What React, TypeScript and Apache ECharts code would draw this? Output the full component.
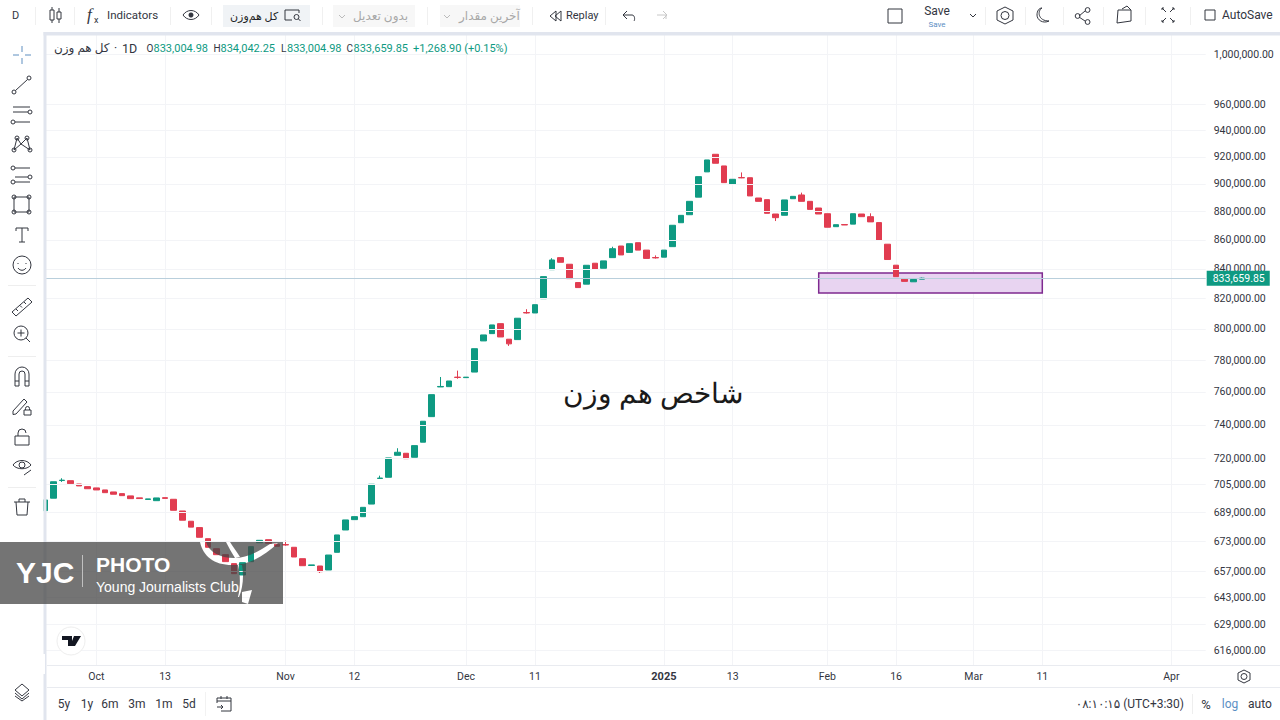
import { useEffect, useRef } from 'react'
import * as echarts from 'echarts'

// daily sessions, the tail past Feb 19 is the empty future part of the time scale
const sessionDates = [
  '2024-09-23', '2024-09-24', '2024-09-25', '2024-09-28', '2024-09-29', '2024-09-30', '2024-10-01', '2024-10-02',
  '2024-10-05', '2024-10-06', '2024-10-07', '2024-10-08', '2024-10-09', '2024-10-12', '2024-10-13', '2024-10-14',
  '2024-10-15', '2024-10-16', '2024-10-19', '2024-10-20', '2024-10-21', '2024-10-22', '2024-10-23', '2024-10-26',
  '2024-10-27', '2024-10-28', '2024-10-29', '2024-10-30', '2024-11-02', '2024-11-03', '2024-11-04', '2024-11-05',
  '2024-11-06', '2024-11-09', '2024-11-10', '2024-11-11', '2024-11-12', '2024-11-13', '2024-11-16', '2024-11-17',
  '2024-11-18', '2024-11-19', '2024-11-20', '2024-11-23', '2024-11-24', '2024-11-25', '2024-11-26', '2024-11-27',
  '2024-11-30', '2024-12-01', '2024-12-02', '2024-12-03', '2024-12-04', '2024-12-07', '2024-12-08', '2024-12-09',
  '2024-12-10', '2024-12-11', '2024-12-14', '2024-12-15', '2024-12-16', '2024-12-17', '2024-12-18', '2024-12-21',
  '2024-12-22', '2024-12-23', '2024-12-24', '2024-12-25', '2024-12-28', '2024-12-29', '2024-12-30', '2024-12-31',
  '2025-01-01', '2025-01-04', '2025-01-05', '2025-01-06', '2025-01-07', '2025-01-08', '2025-01-11', '2025-01-12',
  '2025-01-13', '2025-01-14', '2025-01-15', '2025-01-18', '2025-01-19', '2025-01-20', '2025-01-21', '2025-01-22',
  '2025-01-25', '2025-01-26', '2025-01-29', '2025-02-01', '2025-02-02', '2025-02-03', '2025-02-04', '2025-02-05',
  '2025-02-08', '2025-02-09', '2025-02-15', '2025-02-16', '2025-02-17', '2025-02-18', '2025-02-19', '2025-02-22',
  '2025-02-23', '2025-02-24', '2025-02-25', '2025-02-26', '2025-03-01', '2025-03-02', '2025-03-03', '2025-03-04',
  '2025-03-05', '2025-03-08', '2025-03-09', '2025-03-10', '2025-03-11', '2025-03-12', '2025-03-15', '2025-03-16',
  '2025-03-17', '2025-03-18', '2025-03-19', '2025-03-22', '2025-03-23', '2025-03-24', '2025-03-25', '2025-03-26',
  '2025-03-29', '2025-03-30', '2025-03-31', '2025-04-01', '2025-04-02', '2025-04-05', '2025-04-06', '2025-04-07',
]

const opens = [
  690100, 697100, 707200, 707100, 705200, 703700, 702950, 701800, 700650, 699700,
  698400, 697300, 696400, 695700, 697400, 696500, 689900, 684170, 680650, 674530,
  669070, 665830, 661000, 654920, 662040, 672350, 673980, 671470, 671300, 669840,
  663650, 660000, 659720, 657590, 667110, 679320, 685060, 686700, 693800, 708400,
  709070, 721850, 723050, 720700, 729570, 744900, 763100, 763280, 769200, 768900,
  772400, 792200, 796900, 803400, 793300, 793050, 810700, 810400, 819870, 839450,
  847700, 843150, 830700, 829600, 843850, 840400, 847700, 855750, 851300, 858050,
  852900, 847800, 848000, 855300, 872100, 877800, 890400, 908900, 922000, 913300,
  900000, 904700, 904600, 889800, 888600, 878300, 877400, 889300, 892000, 887400,
  882600, 878500, 869300, 870800, 871100, 878300, 876400, 872200, 857000, 842500,
  833000, 831200, 833004.98,
]

const closes = [
  696100, 706500, 707400, 705400, 704100, 702500, 701800, 700250, 699350, 698550,
  696850, 696900, 696700, 697250, 697000, 690290, 684730, 680900, 675300, 669840,
  665830, 662070, 655610, 661500, 670160, 673650, 672020, 670380, 671100, 664560,
  659880, 660300, 656680, 665630, 676580, 684890, 686730, 691950, 705050, 708600,
  720300, 723640, 719880, 727550, 742110, 758330, 763400, 766800, 769000, 769200,
  787200, 796050, 802550, 794750, 790300, 806950, 810400, 815880, 834700, 846100,
  844500, 833350, 827300, 842450, 839730, 845450, 853880, 849550, 857350, 852900,
  847150, 847500, 852900, 870300, 877350, 887400, 905400, 917760, 915300, 901000,
  903450, 904500, 891300, 887400, 878800, 875700, 888400, 891000, 887400, 881600,
  878300, 868900, 870700, 870500, 878500, 876400, 872700, 859950, 846400, 834700,
  831500, 832800, 833659.85,
]

// only the sessions with a visible wick
const wickHighs: Record<number, number> = {
  2: 708500, 28: 673450, 39: 710000, 41: 726000, 46: 769300, 48: 773300, 56: 812900, 59: 847300,
  66: 855250, 71: 849250, 81: 908500, 88: 893700, 96: 878800, 102: 834042.25,
}
const wickLows: Record<number, number> = {
  2: 706400, 28: 670700, 32: 655990, 39: 708200, 48: 768200, 54: 789000, 56: 810000, 71: 847100, 81: 904300, 85: 873300,
}

const tickDates = [
  '2024-10-01', '2024-10-13', '2024-11-02', '2024-11-12', '2024-12-01', '2024-12-11', '2025-01-01',
  '2025-01-13', '2025-02-01', '2025-02-16', '2025-03-01', '2025-03-11', '2025-04-01',
]
const tickLabels = ['Oct', '13', 'Nov', '12', 'Dec', '11', '{b|2025}', '13', 'Feb', '16', 'Mar', '11', 'Apr']

const priceTicks = [
  1000000, 960000, 940000, 920000, 900000, 880000, 860000, 840000, 820000, 800000, 780000,
  760000, 740000, 720000, 705000, 689000, 673000, 657000, 643000, 629000, 616000,
]
const lastPrice = 833659.85
const zoneDates = ['2025-01-29', '2025-03-11']
const zonePrices = [837200, 823670]

const UP = '#0e9a82'
const DOWN = '#e13c50'
const FAINT = '#f3f4f7'
const BAND = '#e1e5ee'
const INK = '#33363f'
const FONT = 'Roboto, "DejaVu Sans", sans-serif'

// toolbar icons, drawn in page coordinates
const strokeIcons: Record<string, string> = {
  line: 'M15.5 90.5L27.5 79.5M16 92a2 2 0 1 1-4 0a2 2 0 1 1 4 0M31 78a2 2 0 1 1-4 0a2 2 0 1 1 4 0',
  channel: 'M13 107H30M13 112H28M15 122H30M32 112a2 2 0 1 1-4 0a2 2 0 1 1 4 0M15 122a2 2 0 1 1-4 0a2 2 0 1 1 4 0',
  pattern:
    'M14 150L17 138M17 138L21 144L27 138M27 138L30 150L21 144L14 150M16 150a2 2 0 1 1-4 0a2 2 0 1 1 4 0M19 138a2 2 0 1 1-4 0a2 2 0 1 1 4 0M29 138a2 2 0 1 1-4 0a2 2 0 1 1 4 0M32 150a2 2 0 1 1-4 0a2 2 0 1 1 4 0',
  fib: 'M15 168H30M15 177H28M15 182H30M15 168a2 2 0 1 1-4 0a2 2 0 1 1 4 0M32 177a2 2 0 1 1-4 0a2 2 0 1 1 4 0M15 182a2 2 0 1 1-4 0a2 2 0 1 1 4 0',
  rect: 'M14 197H29V212H14ZM16 197a2 2 0 1 1-4 0a2 2 0 1 1 4 0M31 197a2 2 0 1 1-4 0a2 2 0 1 1 4 0M16 212a2 2 0 1 1-4 0a2 2 0 1 1 4 0M31 212a2 2 0 1 1-4 0a2 2 0 1 1 4 0',
  text: 'M16 231V228H28V231M22 228V242M19 242H25',
  smile: 'M31 265a9 9 0 1 1-18 0a9 9 0 1 1 18 0M18 263V264M26 263V264M18 268C20 271 24 271 26 268',
  ruler: 'M12 312L28 298L32 302L16 316ZM16 309L18 311M20 305.5L22 307.5M24 302L26 304',
  zoom: 'M28 333a7 7 0 1 1-14 0a7 7 0 1 1 14 0M26 338L30 342M21 329.5V336.5M17.5 333H24.5',
  magnet: 'M15 386V374A7 7 0 0 1 29 374V386H25V374A3 3 0 0 0 19 374V386ZM15 381H19M25 381H29',
  pencilLock: 'M13 411L24 399L27 402L16 414L13 414.5ZM24 410H31V415H24ZM25.5 410V408.5A2 2 0 0 1 29.5 408.5V410',
  lock: 'M15 436H29V445H15ZM18 436V433A4 4 0 0 1 26 433',
  eye: 'M13 465C17 459 27 459 31 465C27 470 17 470 13 465ZM25 465a3 3 0 1 1-6 0a3 3 0 1 1 6 0M24 475L31 470',
  trash: 'M14 502H30M19 502V499H25V502M16 502L17 515H27L28 502',
  layers: 'M22 684L29 690L22 696L15 690ZM15 693L22 699L29 693M15 696L22 701L29 696',
  candle: 'M50 10H54V20H50ZM52 7V10M52 20V23M57 12H61V19H57ZM59 8V12M59 19V23',
  eyeTop: 'M183 15C187 9 195 9 199 15C195 21 187 21 183 15Z',
  chipSearch: 'M299 13V10H285V20H292M299 17a2.500 2.500 0 1 1-5 0a2.500 2.500 0 1 1 5 0M298.500 19L300.500 21',
  chev1: 'M339 15L342 18L345 15',
  chev2: 'M444 15L447 18L450 15',
  replay: 'M556 11L550 16L556 21ZM561 11L555 16L561 21Z',
  undo: 'M627 11L623 15L627 19M623 15H632C635 15 635 20 634 21',
  square: 'M888 9H902V23H888Z',
  chevSave: 'M970 14L973 17L976 14',
  hex: 'M1005 7L1013 11V20L1005 24L997 20V11ZM1009 15.5a4 4 0 1 1-8 0a4 4 0 1 1 8 0',
  moon: 'M1042 8C1037 11 1038 21 1049 21C1043 24 1037 20 1037 15C1037 11 1039 8 1042 8Z',
  share: 'M1079 16L1085 11M1079 17L1085 21M1080 16a2.4 2.4 0 1 1-4.800 0a2.400 2.400 0 1 1 4.800 0M1090 10a2.400 2.400 0 1 1-4.800 0a2.400 2.400 0 1 1 4.800 0M1090 22a2.400 2.400 0 1 1-4.800 0a2.400 2.400 0 1 1 4.800 0',
  snapshot: 'M1118 10H1131V21L1117 23ZM1122 9L1127 6L1131 10',
  expand: 'M1162 10V8H1164M1172 8H1174V10M1162 20V22H1164M1172 22H1174V20M1162 8L1166 12M1174 8L1170 12M1162 22L1166 18M1174 22L1170 18',
  checkbox: 'M1205 10H1215V20H1205Z',
  calendar: 'M217 698H231V711H221M217 701H231M221 696V699M227 696V699M217 698V703M217 707H223M221 705L223 707L221 709',
  gear: 'M1244 670L1250 673V680L1244 683L1238 680V673ZM1247 676.500a3 3 0 1 1-6 0a3 3 0 1 1 6 0',
}

const registerIcons = () => {
  Object.keys(strokeIcons).forEach((name) => {
    echarts.graphic.registerShape('ic_' + name, echarts.graphic.extendPath(strokeIcons[name], {}) as any)
  })
  // the grey watermark, the swoosh is a hole so the candles show through it
  echarts.graphic.registerShape(
    'yjc_plate',
    echarts.graphic.extendPath(
      'M0 542H283V604H0Z' +
        'M200 542C203 556 214 565 232 565C250 565 265 555 278 543L270 544C258 552 246 558 234 558C220 558 209 552 206 542Z' +
        'M226 542C229 548 232 553 235 558L240 557C237 552 233 547 230 542Z' +
        'M238 565C240 572 241 585 238 597L239 597C243 588 244 575 242 565Z' +
        'M242 592L242 602L248 604L252 590Z',
      {},
    ) as any,
  )
  echarts.graphic.registerShape(
    'tv_logo',
    echarts.graphic.extendPath('M62 636H72V646H68V640H62ZM74 636H81L75 646H70Z M76 640a1 1 0 1 1 0 .01', {}) as any,
  )
}
registerIcons()

const txt = (x: number, y: number, text: string, fill = INK, fontSize = 12, extra: any = {}) => ({
  type: 'text',
  z: 200,
  silent: true,
  style: { x, y, text, fill, fontSize, fontFamily: FONT, verticalAlign: 'middle', align: 'left', ...extra },
})
const box = (x: number, y: number, width: number, height: number, fill: string, z = 190) => ({
  type: 'rect',
  z,
  silent: true,
  shape: { x, y, width, height },
  style: { fill },
})

const buildChrome = () => {
  const els: any[] = [
    // chrome panels go over the clipped chart edges
    box(0, 0, 1280, 32, '#ffffff'),
    box(0, 32, 1280, 3.5, BAND),
    box(0, 32, 43.5, 688, '#ffffff'),
    box(43.5, 32, 3, 688, BAND),
    box(47, 665, 1233, 1, '#e9ebf0'),
    box(47, 687, 1233, 1, '#e9ebf0'),
    box(223, 5, 87, 22, '#f0f3f6'),
    box(333, 5, 82, 22, '#f7f7f7'),
    box(440, 5, 80, 22, '#f7f7f7'),
    box(40, 654, 5, 20, '#ffffff', 195),
  ]
  ;[285, 356, 487].forEach((y) => els.push(box(8, y, 28, 1, '#eeeeee')))
  ;[35, 74, 170, 211, 322, 427, 532, 605, 985, 1025, 1063, 1103, 1145, 1190].forEach((x) =>
    els.push(box(x, 7, 1, 18, '#f0f0f0')),
  )
  els.push(box(1192, 694, 1, 20, '#eeeeee'), box(205, 692, 1, 24, '#f2f2f2'))

  Object.keys(strokeIcons).forEach((name) => {
    els.push({
      type: 'ic_' + name,
      z: 200,
      silent: true,
      style: { fill: 'none', stroke: name === 'chev1' || name === 'chev2' ? '#bbbbbb' : INK, lineWidth: 1 },
    })
  })
  // crosshair tool is the active one
  ;[
    [22, 46, 22, 52],
    [22, 58, 22, 64],
    [13, 55, 19, 55],
    [25, 55, 31, 55],
  ].forEach(([x1, y1, x2, y2]) =>
    els.push({ type: 'line', z: 200, silent: true, shape: { x1, y1, x2, y2 }, style: { stroke: '#5f8fc0', lineWidth: 1 } }),
  )
  els.push({ type: 'circle', z: 200, silent: true, shape: { cx: 191, cy: 15, r: 2.5 }, style: { fill: INK } })
  els.push({ type: 'polyline', z: 200, silent: true, shape: { points: [[666, 19], [666, 15], [657, 15]] }, style: { stroke: '#c8c8c8', fill: 'none', lineWidth: 1 } })
  els.push({ type: 'polyline', z: 200, silent: true, shape: { points: [[663, 11], [667, 15], [663, 19]] }, style: { stroke: '#c8c8c8', fill: 'none', lineWidth: 1 } })

  // top bar
  els.push(
    txt(12, 15, 'D', INK, 11),
    txt(87, 14, 'f', INK, 17, { fontFamily: '"Liberation Serif", serif', fontStyle: 'italic' }),
    txt(94, 20, 'x', INK, 9),
    txt(107, 15, 'Indicators', INK, 11.5),
    txt(230, 16, 'کل هم‌وزن', '#1c1e24', 11),
    txt(353, 16, 'بدون تعدیل', '#a8a8a8', 12),
    txt(459, 16, 'آخرین مقدار', '#a8a8a8', 12),
    txt(566, 15, 'Replay', INK, 11),
    txt(937, 11, 'Save', INK, 12, { align: 'center' }),
    txt(937, 24, 'Save', '#5b8fc4', 8, { align: 'center' }),
    txt(1222, 15, 'AutoSave', INK, 12),
  )

  // legend row
  els.push(txt(54, 48, 'کل هم وزن', INK, 12), txt(114, 48, '·', INK, 12), txt(122, 48, '1D', INK, 12.5))
  ;[
    [146.5, 'O', 153.5, '833,004.98'],
    [213.5, 'H', 220.5, '834,042.25'],
    [281, 'L', 287, '833,004.98'],
    [346.5, 'C', 353.5, '833,659.85'],
  ].forEach(([lx, l, vx, v]) => {
    els.push(txt(lx as number, 48, l as string, INK, 10), txt(vx as number, 48, v as string, UP, 11))
  })
  els.push(txt(413, 48, '+1,268.90 (+0.15%)', UP, 11))

  // bottom bar
  ;[
    ['5y', 64],
    ['1y', 87],
    ['6m', 110],
    ['3m', 137],
    ['1m', 164],
    ['5d', 189],
  ].forEach(([t, x]) => els.push(txt(x as number, 704, t as string, INK, 12, { align: 'center' })))
  els.push(
    txt(1184, 704, '۰۸:۱۰:۱۵ (UTC+3:30)', INK, 12, { align: 'right' }),
    txt(1206, 704, '%', INK, 13, { align: 'center' }),
    txt(1230, 704, 'log', '#5b8fc4', 12, { align: 'center' }),
    txt(1260, 704, 'auto', INK, 12, { align: 'center' }),
  )

  // tv badge
  els.push({ type: 'circle', z: 200, silent: true, shape: { cx: 71, cy: 641, r: 14 }, style: { fill: '#ffffff', stroke: '#eeeeee', lineWidth: 1 } })
  els.push({ type: 'tv_logo', z: 201, silent: true, style: { fill: '#131722' } })

  // caption placed on the chart
  els.push(txt(653, 393, 'شاخص هم وزن', '#1a1a1a', 28, { align: 'center', fontFamily: '"Liberation Serif", "DejaVu Serif", serif' }))

  // photo agency watermark
  els.push({ type: 'yjc_plate', z: 210, silent: true, style: { fill: 'rgba(70,70,70,0.75)' } })
  els.push(box(82, 555, 1, 32, 'rgba(255,255,255,0.55)', 211))
  const w = { fontFamily: '"Liberation Sans", Arimo, sans-serif' }
  els.push(
    { ...txt(16, 572, 'YJC', '#ffffff', 30, { ...w, fontWeight: 'bold' }), z: 211 },
    { ...txt(96, 564, 'PHOTO', '#ffffff', 21, { ...w, fontWeight: 'bold' }), z: 211 },
    { ...txt(96, 587, 'Young Journalists Club', '#ffffff', 14, w), z: 211 },
  )
  return els
}

export default function App() {
  const ref = useRef<HTMLDivElement>(null)

  useEffect(() => {
    if (!ref.current) return
    const chart = echarts.init(ref.current, undefined, { renderer: 'svg' })

    const candles = opens.map((o, i) => {
      const c = closes[i]
      return [o, c, wickLows[i] ?? Math.min(o, c), wickHighs[i] ?? Math.max(o, c)]
    })

    const tickLines = priceTicks.map((p) => ({
      yAxis: p,
      lineStyle: { color: FAINT, width: 1, type: 'solid' },
      label: {
        show: true,
        position: 'end',
        distance: 8,
        padding: [0, 0, 6, 0],
        formatter: p.toLocaleString('en-US', { minimumFractionDigits: 2 }),
        color: INK,
        fontSize: 10.5,
        fontFamily: FONT,
      },
    }))

    chart.setOption({
      animation: false,
      backgroundColor: '#ffffff',
      grid: { left: 44.7, right: 74.3, top: 35, bottom: 55 },
      xAxis: {
        type: 'category',
        data: sessionDates,
        boundaryGap: false,
        axisLine: { show: false },
        axisTick: { show: false },
        splitLine: {
          show: true,
          interval: (_: number, v: string) => tickDates.includes(v),
          lineStyle: { color: FAINT, width: 1 },
        },
        axisLabel: {
          interval: (_: number, v: string) => tickDates.includes(v),
          formatter: (v: string) => tickLabels[tickDates.indexOf(v)] ?? '',
          color: INK,
          fontSize: 10.5,
          fontFamily: FONT,
          margin: 6,
          rich: { b: { fontWeight: 'bold', fontSize: 11, color: INK, fontFamily: FONT } },
        },
      },
      yAxis: {
        type: 'log',
        logBase: 10,
        position: 'right',
        min: 608700,
        max: 1015900,
        axisLine: { show: false },
        axisTick: { show: false },
        axisLabel: { show: false },
        splitLine: { show: false },
      },
      series: [
        {
          type: 'candlestick',
          data: candles,
          barWidth: 6,
          itemStyle: { color: UP, color0: DOWN, borderColor: UP, borderColor0: DOWN, borderWidth: 1 },
          markArea: {
            silent: true,
            itemStyle: { color: '#e8d4f1', borderColor: '#7f2a90', borderWidth: 1.5 },
            data: [[{ coord: [zoneDates[0], zonePrices[0]] }, { coord: [zoneDates[1], zonePrices[1]] }]],
          },
          markLine: {
            silent: true,
            symbol: 'none',
            animation: false,
            data: [
              ...tickLines,
              {
                yAxis: lastPrice,
                lineStyle: { color: '#b9cfdc', width: 1, type: 'solid' },
                label: {
                  show: true,
                  position: 'end',
                  distance: 1,
                  formatter: '833,659.85',
                  color: '#ffffff',
                  backgroundColor: UP,
                  padding: [2, 5, 2, 6],
                  fontSize: 10.5,
                  fontFamily: FONT,
                },
              },
            ],
          },
        },
      ],
      graphic: { elements: buildChrome() },
    })

    return () => chart.dispose()
  }, [])

  return <div ref={ref} style={{ position: 'fixed', left: 0, top: 0, width: 1280, height: 720 }} />
}
